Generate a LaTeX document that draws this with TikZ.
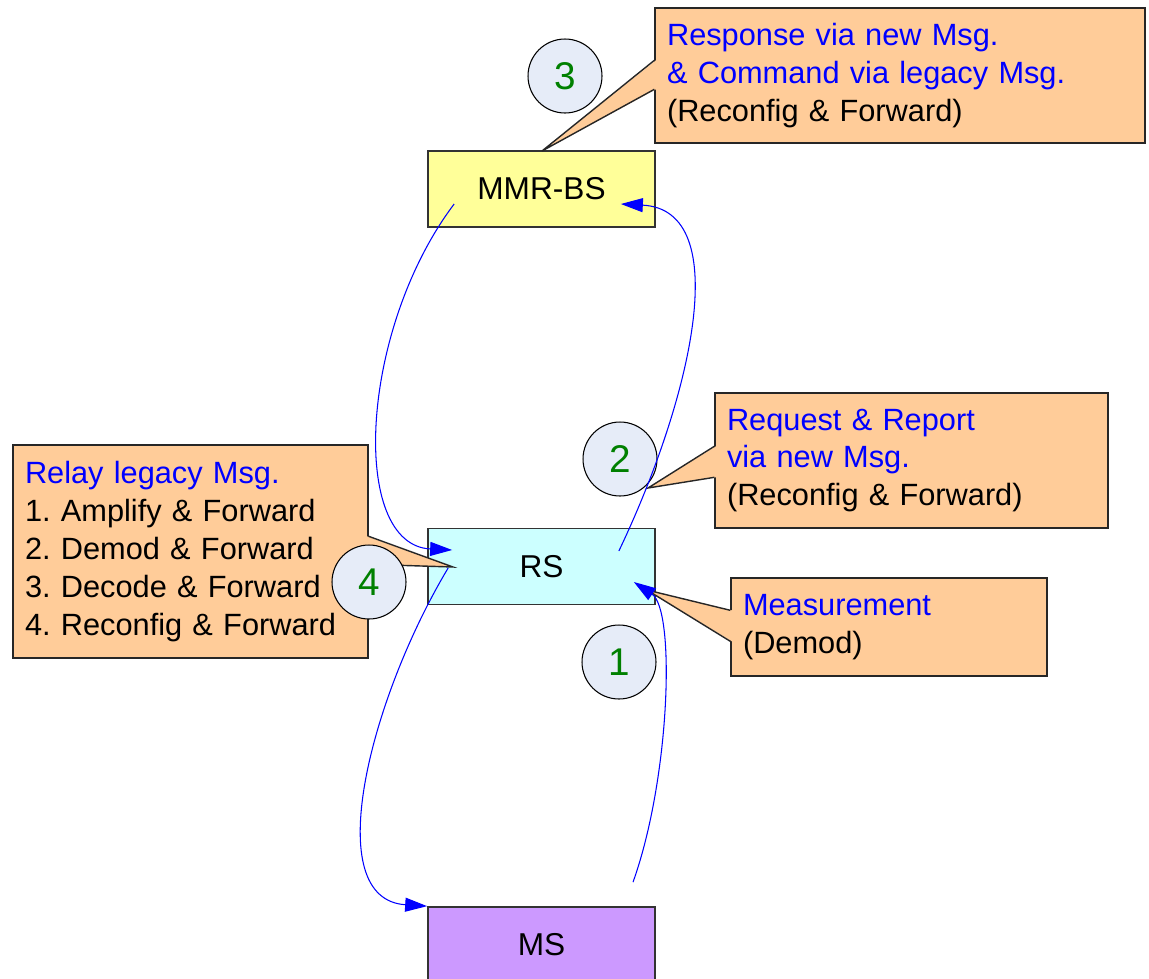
\documentclass[tikz,border=0pt]{standalone}
\usepackage{fontspec}
\setmainfont{Liberation Sans}
\usepackage{xcolor}
\usetikzlibrary{arrows.meta}
\frenchspacing

\definecolor{bsyellow}{RGB}{255,255,153}
\definecolor{rscyan}{RGB}{204,255,255}
\definecolor{mspurple}{RGB}{204,153,255}
\definecolor{notepeach}{RGB}{255,204,153}
\definecolor{stepfill}{RGB}{230,236,248}
\definecolor{stepgreen}{RGB}{0,128,0}

\begin{document}
\begin{tikzpicture}[x=0.02cm, y=-0.02cm, >={Triangle[length=0.44cm,width=0.28cm]},
    station/.style={draw=black!80, line width=1pt, minimum width=4.54cm, minimum height=1.52cm,
        font=\fontsize{18pt}{21.5pt}\selectfont},
    note/.style={draw=black!85, line width=0.8pt, fill=notepeach, align=left, inner xsep=0.24cm,
        inner ysep=0pt, font=\fontsize{17.5pt}{21.5pt}\selectfont},
    stepnum/.style={circle, draw, line width=0.6pt, fill=stepfill, minimum size=1.48cm, inner sep=0pt,
        text=stepgreen, font=\fontsize{22pt}{24pt}\selectfont},
    link/.style={->, blue, line width=0.6pt}]
    \useasboundingbox (0,0) rectangle (1149,978);

    \node[station, fill=bsyellow] (mmr) at (541.5,189) {MMR-BS};
    \node[station, fill=rscyan] (rs) at (541.5,566.5) {RS};
    \node[station, fill=mspurple] (ms) at (541.5,945) {MS};

    \node[note, text width=9.32cm, minimum height=2.7cm] (n3) at (900,75.5)
        {\textcolor{blue}{Response via new Msg.}\\\textcolor{blue}{\& Command via legacy Msg.}\\(Reconfig \& Forward)};
    \node[note, text width=7.38cm, minimum height=2.7cm] (n2) at (911.5,460.5)
        {\textcolor{blue}{Request \& Report}\\\textcolor{blue}{via new Msg.}\\(Reconfig \& Forward)};
    \node[note, text width=5.84cm, minimum height=1.96cm] (n1) at (889,627)
        {\textcolor{blue}{Measurement}\\(Demod)};
    \node[note, text width=6.62cm, minimum height=4.26cm] (n4) at (190.5,551.5)
        {\textcolor{blue}{Relay legacy Msg.}\\1. Amplify \& Forward\\2. Demod \& Forward\\3. Decode \& Forward\\4. Reconfig \& Forward};

    \coordinate (t3) at (542,151);
    \coordinate (t2) at (648,488);
    \coordinate (t1) at (647,590);
    \coordinate (t4) at (453,567);
    \foreach \k/\a/\b in {3/53/82, 2/54/85, 1/33/64} {
        \fill[notepeach] ([shift={(1.5,\a)}]n\k.north west) -- (t\k) -- ([shift={(1.5,\b)}]n\k.north west) -- cycle;
        \draw[black!85, line width=0.8pt] ([shift={(0,\a)}]n\k.north west) -- (t\k) -- ([shift={(0,\b)}]n\k.north west);
    }
    \fill[notepeach] ([shift={(-1.5,92)}]n4.north east) -- (t4) -- ([shift={(-1.5,120)}]n4.north east) -- cycle;
    \draw[black!85, line width=0.8pt] ([shift={(0,92)}]n4.north east) -- (t4) -- ([shift={(0,120)}]n4.north east);

    \foreach \k/\x/\y in {3/565/76, 2/620/459, 4/369/582, 1/619/662}
        \node[stepnum] (s\k) at (\x,\y) {\k};

    \draw[link] ([shift={(27,15)}]mmr.west) .. controls +(-95,126) and +(-103,-5) .. ([shift={(25,-16.5)}]rs.west);
    \draw[link] ([shift={(-37,-15.5)}]rs.east) .. controls +(72,-151) and +(115,6) .. ([shift={(-35,15)}]mmr.east);
    \draw[link] ([shift={(91.5,-24)}]ms.north) .. controls +(37,-103) and +(42,28) .. ([shift={(-22,15.5)}]rs.east);
    \draw[link] ([shift={(21,1.5)}]rs.west) .. controls +(-79,132) and +(-108,-7) .. (ms.north west);
\end{tikzpicture}
\end{document}
